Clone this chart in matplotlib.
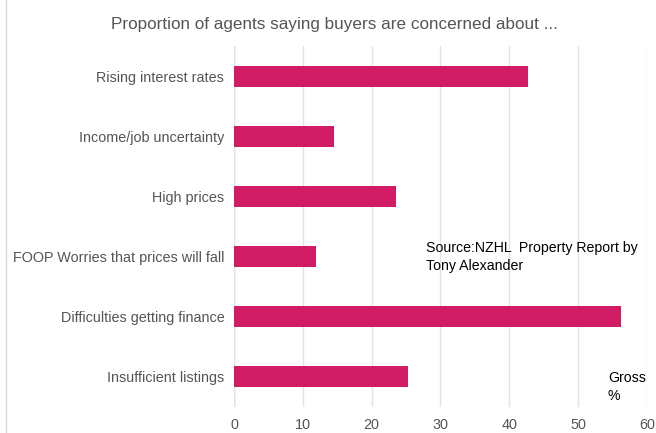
import matplotlib
matplotlib.use("Agg")
import matplotlib.pyplot as plt
from matplotlib.lines import Line2D

categories = ["Rising interest rates", "Income/job uncertainty", "High prices",
              "FOOP Worries that prices will fall", "Difficulties getting finance",
              "Insufficient listings"]
values = [42.7, 14.5, 23.5, 11.9, 56.2, 25.3]
xticks = [0, 10, 20, 30, 40, 50, 60]

plt.rcParams['font.family'] = ['Liberation Sans', 'DejaVu Sans']

fig = plt.figure(figsize=(6.56, 4.33), dpi=100)
ax = fig.add_axes([234/656, 1-407/433, (646.7-234)/656, (407-46)/433])

y = list(range(len(categories)))
ax.barh(y, values, height=0.35, color="#D01C65", zorder=3)
ax.set_ylim(len(categories)-0.5, -0.5)
ax.set_xlim(0, 60)
ax.set_yticks(y)
ax.set_yticklabels(categories, fontsize=10.4, color="#555555")
ax.set_xticks(xticks)
ax.set_xticklabels([str(t) for t in xticks], fontsize=10.4, color="#555555")
ax.tick_params(axis='y', length=0, pad=7)
ax.tick_params(axis='x', length=0, pad=8)
for s in ax.spines.values():
    s.set_visible(False)
ax.grid(axis='x', color="#e3e3e3", linewidth=1, zorder=0)
ax.axvline(0, color="#bdbdbd", linewidth=1, zorder=1)

fig.text(334/656, 1-25/433, "Proportion of agents saying buyers are concerned about ...",
         ha='center', va='center', fontsize=12.3, color="#555555")
fig.text(426/656, 1-257/433, "Source:NZHL  Property Report by\nTony Alexander",
         ha='left', va='center', fontsize=10.2, color="black", linespacing=1.3)
fig.text(608/656, 1-387/433, "Gross\n%", ha='left', va='center', fontsize=10.2,
         color="black", linespacing=1.3)

fig.add_artist(Line2D([6/656, 6/656], [0, 1], color="#d9d9d9", linewidth=1,
                      transform=fig.transFigure))

fig.savefig("out.png", dpi=100)
